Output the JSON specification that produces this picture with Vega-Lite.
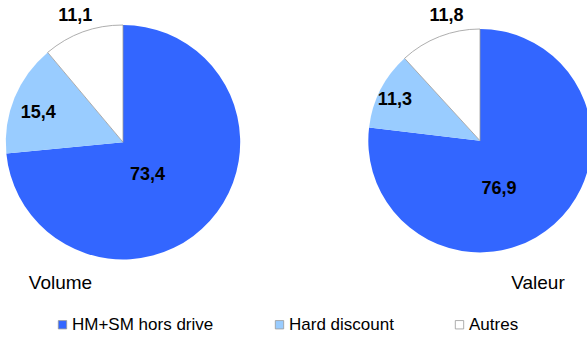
{
  "$schema": "https://vega.github.io/schema/vega-lite/v6.json",
  "width": 587,
  "height": 337,
  "padding": 0,
  "autosize": {"type": "none"},
  "background": "white",
  "config": {
    "view": {"stroke": null},
    "font": "Liberation Sans",
    "locale": {"number": {"decimal": ",", "thousands": " ", "grouping": [3], "currency": ["", " €"]}}
  },
  "data": {
    "values": [
      {"chart": "Volume", "cat": "HM+SM hors drive", "value": 73.4, "rank": 1},
      {"chart": "Volume", "cat": "Hard discount", "value": 15.4, "rank": 2},
      {"chart": "Volume", "cat": "Autres", "value": 11.1, "rank": 3},
      {"chart": "Valeur", "cat": "HM+SM hors drive", "value": 76.9, "rank": 1},
      {"chart": "Valeur", "cat": "Hard discount", "value": 11.3, "rank": 2},
      {"chart": "Valeur", "cat": "Autres", "value": 11.8, "rank": 3}
    ]
  },
  "encoding": {
    "x": {"field": "chart", "type": "nominal", "scale": {"type": "point", "domain": ["Volume", "Valeur"], "range": [123, 480], "padding": 0}, "axis": null},
    "y": {"field": "chart", "type": "nominal", "scale": {"type": "point", "domain": ["Volume", "Valeur"], "range": [142.2, 140.7], "padding": 0}, "axis": null},
    "theta": {"field": "value", "type": "quantitative", "stack": true},
    "order": {"field": "rank", "type": "quantitative"}
  },
  "layer": [
    {
      "transform": [{"filter": "datum.chart === 'Volume'"}],
      "mark": {"type": "arc", "outerRadius": 117.2, "stroke": "#999999"},
      "encoding": {
        "color": {
          "field": "cat", "type": "nominal",
          "scale": {"domain": ["HM+SM hors drive", "Hard discount", "Autres"], "range": ["#3366FF", "#99CCFF", "#FFFFFF"]},
          "legend": {
            "title": null, "orient": "none", "legendX": 54, "legendY": 316,
            "direction": "horizontal", "columns": 3, "columnPadding": 57,
            "symbolType": "square", "symbolSize": 70, "symbolStrokeWidth": 0.8,
            "labelFontSize": 17, "labelFont": "Liberation Sans", "labelColor": "black", "labelOffset": 1,
            "encode": {"symbols": {"update": {"stroke": {"signal": "datum.value === 'Autres' ? '#808080' : 'transparent'"}}}}
          }
        },
        "strokeWidth": {"condition": {"test": "datum.cat === 'Autres'", "value": 0.8}, "value": 0}
      }
    },
    {
      "transform": [{"filter": "datum.chart === 'Valeur'"}],
      "mark": {"type": "arc", "outerRadius": 111.7, "stroke": "#999999"},
      "encoding": {
        "color": {"field": "cat", "type": "nominal"},
        "strokeWidth": {"condition": {"test": "datum.cat === 'Autres'", "value": 0.8}, "value": 0}
      }
    },
    {
      "transform": [{"filter": "datum.chart === 'Volume'"}],
      "mark": {"type": "text", "radius": 40, "dx": -5, "dy": 6, "fontSize": 18, "fontWeight": "bold", "font": "Liberation Sans", "color": "black"},
      "encoding": {
        "detail": {"field": "cat", "type": "nominal"},
        "text": {"condition": {"test": "datum.cat === 'HM+SM hors drive'", "field": "value", "type": "quantitative", "format": ".1f"}, "value": ""}
      }
    },
    {
      "transform": [{"filter": "datum.chart === 'Volume'"}],
      "mark": {"type": "text", "radius": 90, "dx": -1.5, "dy": 5, "fontSize": 18, "fontWeight": "bold", "font": "Liberation Sans", "color": "black"},
      "encoding": {
        "detail": {"field": "cat", "type": "nominal"},
        "text": {"condition": {"test": "datum.cat === 'Hard discount'", "field": "value", "type": "quantitative", "format": ".1f"}, "value": ""}
      }
    },
    {
      "transform": [{"filter": "datum.chart === 'Volume'"}],
      "mark": {"type": "text", "radius": 135.5, "dx": -1.5, "dy": 1.5, "fontSize": 18, "fontWeight": "bold", "font": "Liberation Sans", "color": "black"},
      "encoding": {
        "detail": {"field": "cat", "type": "nominal"},
        "text": {"condition": {"test": "datum.cat === 'Autres'", "field": "value", "type": "quantitative", "format": ".1f"}, "value": ""}
      }
    },
    {
      "transform": [{"filter": "datum.chart === 'Valeur'"}],
      "mark": {"type": "text", "radius": 49, "dx": -13.5, "dy": 12, "fontSize": 18, "fontWeight": "bold", "font": "Liberation Sans", "color": "black"},
      "encoding": {
        "detail": {"field": "cat", "type": "nominal"},
        "text": {"condition": {"test": "datum.cat === 'HM+SM hors drive'", "field": "value", "type": "quantitative", "format": ".1f"}, "value": ""}
      }
    },
    {
      "transform": [{"filter": "datum.chart === 'Valeur'"}],
      "mark": {"type": "text", "radius": 94, "dx": -1.5, "dy": 2.5, "fontSize": 18, "fontWeight": "bold", "font": "Liberation Sans", "color": "black"},
      "encoding": {
        "detail": {"field": "cat", "type": "nominal"},
        "text": {"condition": {"test": "datum.cat === 'Hard discount'", "field": "value", "type": "quantitative", "format": ".1f"}, "value": ""}
      }
    },
    {
      "transform": [{"filter": "datum.chart === 'Valeur'"}],
      "mark": {"type": "text", "radius": 128.4, "dx": 13, "dy": -5, "fontSize": 18, "fontWeight": "bold", "font": "Liberation Sans", "color": "black"},
      "encoding": {
        "detail": {"field": "cat", "type": "nominal"},
        "text": {"condition": {"test": "datum.cat === 'Autres'", "field": "value", "type": "quantitative", "format": ".1f"}, "value": ""}
      }
    },
    {
      "transform": [{"filter": "datum.chart === 'Volume' && datum.rank === 1"}],
      "mark": {"type": "text", "fontSize": 19, "font": "Liberation Sans", "color": "black", "baseline": "alphabetic", "align": "center", "dx": -62.5, "dy": 146.8},
      "encoding": {"theta": null, "order": null, "text": {"field": "chart", "type": "nominal"}}
    },
    {
      "transform": [{"filter": "datum.chart === 'Valeur' && datum.rank === 1"}],
      "mark": {"type": "text", "fontSize": 19, "font": "Liberation Sans", "color": "black", "baseline": "alphabetic", "align": "center", "dx": 58, "dy": 148.3},
      "encoding": {"theta": null, "order": null, "text": {"field": "chart", "type": "nominal"}}
    }
  ],
  "resolve": {"scale": {"theta": "independent"}}
}
